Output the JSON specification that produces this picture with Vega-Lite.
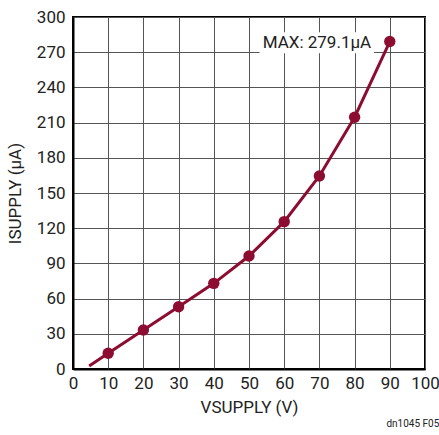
{
  "$schema": "https://vega.github.io/schema/vega-lite/v6.json",
  "width": 352,
  "height": 352,
  "autosize": {"type": "none"},
  "padding": {"left": 73, "top": 17, "right": 14, "bottom": 66},
  "background": "white",
  "config": {
    "font": "Roboto, Liberation Sans, sans-serif",
    "view": {"stroke": "black", "strokeWidth": 2}
  },
  "title": {
    "text": "dn1045 F05",
    "orient": "bottom",
    "anchor": "end",
    "fontSize": 10,
    "fontWeight": "normal",
    "color": "#222",
    "offset": 4,
    "limit": 0
  },
  "datasets": {
    "curve": [
      {"v": 4.6, "i": 2.5, "pt": false},
      {"v": 10, "i": 13.4, "pt": true},
      {"v": 20, "i": 33.2, "pt": true},
      {"v": 30, "i": 53.1, "pt": true},
      {"v": 40, "i": 73.0, "pt": true},
      {"v": 50, "i": 96.3, "pt": true},
      {"v": 60, "i": 125.6, "pt": true},
      {"v": 70, "i": 164.5, "pt": true},
      {"v": 80, "i": 214.6, "pt": true},
      {"v": 90, "i": 279.1, "pt": true}
    ],
    "note": [
      {"x1": 53, "x2": 85.5, "y1": 269, "y2": 287, "xc": 69.3, "yc": 278, "label": "MAX: 279.1µA"}
    ]
  },
  "encoding": {
    "x": {
      "field": "v", "type": "quantitative",
      "scale": {"domain": [0, 100], "nice": false, "zero": true},
      "axis": {
        "values": [0,10,20,30,40,50,60,70,80,90,100],
        "title": "VSUPPLY (V)",
        "titleFontSize": 17, "titleFontWeight": "normal", "titleColor": "#222",
        "titlePadding": 8,
        "labelFontSize": 17, "labelColor": "#222", "labelPadding": 6,
        "labelOverlap": false,
        "ticks": false,
        "domainColor": "black", "domainWidth": 2,
        "grid": true, "gridColor": "#555", "gridWidth": 1, "gridOpacity": 1,
        "labelFlush": false
      }
    },
    "y": {
      "field": "i", "type": "quantitative",
      "scale": {"domain": [0, 300], "nice": false, "zero": true},
      "axis": {
        "values": [0,30,60,90,120,150,180,210,240,270,300],
        "title": "ISUPPLY (µA)",
        "titleFontSize": 17, "titleFontWeight": "normal", "titleColor": "#222",
        "titlePadding": 12,
        "labelFontSize": 17, "labelColor": "#222", "labelPadding": 8,
        "labelOverlap": false,
        "ticks": false,
        "domainColor": "black", "domainWidth": 2,
        "grid": true, "gridColor": "#555", "gridWidth": 1, "gridOpacity": 1,
        "labelFlush": false
      }
    }
  },
  "layer": [
    {
      "data": {"name": "curve"},
      "mark": {"type": "line", "color": "#8c0d31", "strokeWidth": 3}
    },
    {
      "data": {"name": "curve"},
      "transform": [{"filter": "datum.pt"}],
      "mark": {"type": "circle", "color": "#8c0d31", "size": 130, "opacity": 1}
    },
    {
      "data": {"name": "note"},
      "mark": {"type": "rect", "color": "white"},
      "encoding": {
        "x": {"field": "x1", "type": "quantitative"},
        "x2": {"field": "x2"},
        "y": {"field": "y1", "type": "quantitative"},
        "y2": {"field": "y2"}
      }
    },
    {
      "data": {"name": "note"},
      "mark": {"type": "text", "fontSize": 17, "color": "#222", "align": "center", "baseline": "middle"},
      "encoding": {
        "x": {"field": "xc", "type": "quantitative"},
        "y": {"field": "yc", "type": "quantitative"},
        "text": {"field": "label"}
      }
    }
  ]
}
